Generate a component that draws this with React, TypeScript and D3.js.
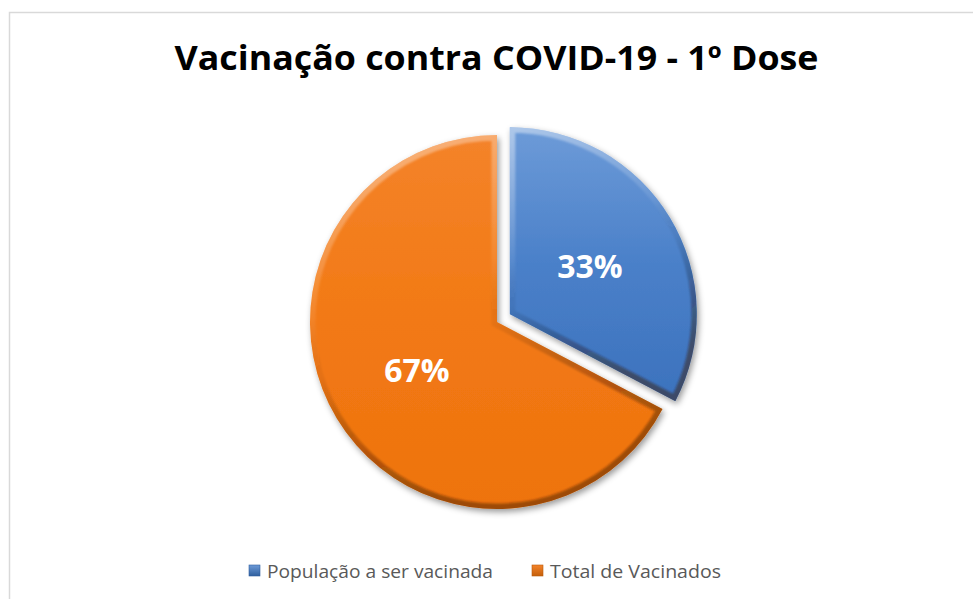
import React from 'react';
import * as d3 from 'd3';

const title = 'Vacinação contra COVID-19 - 1º Dose';
const categories = ['População a ser vacinada', 'Total de Vacinados'];
const values = [32.7, 67.3];
const baseColors = ['#4a80c9', '#f27914'];
const lightColors = ['#6d9bd8', '#f4832a'];
const darkColors = ['#3c72bd', '#ee730e'];

const W = 973;
const H = 599;

export default function App() {
  const cx = 497;
  const cy = 322;
  const R = 187;
  const explode = 15;

  const pie = d3.pie<number>().sort(null).startAngle(0).endAngle(2 * Math.PI)(values);
  const arc = d3.arc<d3.PieArcDatum<number>>().innerRadius(0).outerRadius(R);
  const total = d3.sum(values);

  const legendX = [249, 532];
  const legendW = [226, 171];

  return (
    <svg width={W} height={H} style={{ position: 'absolute', left: 0, top: 0 }}>
      <defs>
        {pie.map((d, i) => (
          <linearGradient key={'g' + i} id={'fill' + i} x1="0" y1="0" x2="0" y2="1">
            <stop offset="0" stopColor={lightColors[i]} />
            <stop offset="0.5" stopColor={baseColors[i]} />
            <stop offset="1" stopColor={darkColors[i]} />
          </linearGradient>
        ))}
        <linearGradient id="bevelGrad" x1="0" y1="0" x2="0.3" y2="1">
          <stop offset="0" stopColor="#ffffff" stopOpacity="0.45" />
          <stop offset="0.45" stopColor="#ffffff" stopOpacity="0.08" />
          <stop offset="0.6" stopColor="#000000" stopOpacity="0.05" />
          <stop offset="1" stopColor="#3a1a00" stopOpacity="0.45" />
        </linearGradient>
        <filter id="shadow" x="-20%" y="-20%" width="140%" height="140%">
          <feDropShadow dx="2" dy="3" stdDeviation="3" floodColor="#000" floodOpacity="0.4" />
        </filter>
        <filter id="soft" x="-10%" y="-10%" width="120%" height="120%">
          <feGaussianBlur stdDeviation="1.1" />
        </filter>
        {pie.map((d, i) => (
          <clipPath key={'c' + i} id={'clip' + i}>
            <path d={arc(d) || ''} />
          </clipPath>
        ))}
        {[0, 1].map((i) => (
          <linearGradient key={'lg' + i} id={'leg' + i} x1="0" y1="0" x2="0" y2="1">
            <stop offset="0" stopColor={lightColors[i]} />
            <stop offset="1" stopColor={i === 0 ? '#2f5f9e' : '#c45f0a'} />
          </linearGradient>
        ))}
      </defs>

      <rect x={9.5} y={12.5} width={W + 20} height={H + 20} fill="#ffffff" stroke="#d9d9d9" strokeWidth={1.5} />

      <text
        x={W / 2 + 10}
        y={70}
        textAnchor="middle"
        fontFamily="'Open Sans', sans-serif"
        fontWeight={700}
        fontSize={34}
        fill="#000000"
        textLength={644}
        lengthAdjust="spacingAndGlyphs"
      >
        {title}
      </text>

      {pie.map((d, i) => {
        const mid = (d.startAngle + d.endAngle) / 2;
        const off = i === 0 ? explode : 0;
        const tx = cx + Math.sin(mid) * off;
        const ty = cy - Math.cos(mid) * off;
        const [lx, ly] = arc.centroid(d);
        const pct = Math.round((d.data / total) * 100) + '%';
        return (
          <g key={'s' + i} transform={`translate(${tx},${ty})`}>
            <path d={arc(d) || ''} fill={`url(#fill${i})`} filter="url(#shadow)" />
            <g clipPath={`url(#clip${i})`}>
              <path
                d={arc(d) || ''}
                fill="none"
                stroke="url(#bevelGrad)"
                strokeWidth={11}
                strokeLinejoin="miter"
                filter="url(#soft)"
              />
            </g>
            <text
              x={lx}
              y={ly + 12}
              textAnchor="middle"
              fontFamily="'Open Sans', sans-serif"
              fontWeight={700}
              fontSize={32}
              fill="#ffffff"
            >
              {pct}
            </text>
          </g>
        );
      })}

      {categories.map((c, i) => (
        <g key={'l' + i}>
          <rect x={legendX[i]} y={565} width={11} height={11} fill={`url(#leg${i})`} stroke={i === 0 ? '#2f5f9e' : '#b85a0c'} strokeWidth={0.6} />
          <text
            x={legendX[i] + 18}
            y={578}
            fontFamily="'Open Sans', sans-serif"
            fontSize={18}
            fill="#595959"
            textLength={legendW[i]}
            lengthAdjust="spacingAndGlyphs"
          >
            {c}
          </text>
        </g>
      ))}
    </svg>
  );
}
